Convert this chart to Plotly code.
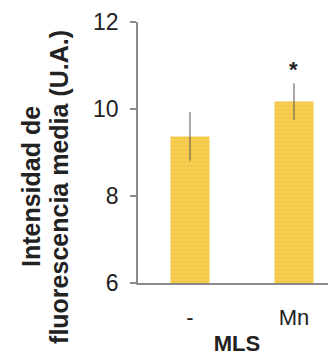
import plotly.graph_objects as go

categories = ["-", "Mn"]
values = [9.37, 10.17]
errors = [0.56, 0.42]
sig_labels = ["", "*"]
y_ticks = [6, 8, 10, 12]

FONT = "Liberation Sans, Arial, sans-serif"
AX = "#8a8a8a"

fig = go.Figure()
fig.add_trace(go.Bar(
    x=[0, 1], y=values, width=0.375,
    marker=dict(color="#F5C843", line=dict(width=0),
                pattern=dict(shape="-", fgcolor="#F9D874", bgcolor="#F5C843",
                             size=4, solidity=0.35)),
    error_y=dict(type="data", array=errors, visible=True, color="#555555",
                 thickness=1, width=0),
))

for i, s in enumerate(sig_labels):
    if s:
        fig.add_annotation(x=i, y=values[i] + errors[i], text="<b>" + s + "</b>", showarrow=False,
                           yshift=14, font=dict(family=FONT, size=22, color="#222"))

fig.add_annotation(xref="paper", yref="paper", x=-0.540, y=0.368, text="<b>Intensidad de</b>",
                   textangle=-90, showarrow=False, xanchor="center", yanchor="middle",
                   font=dict(family=FONT, size=25, color="#222"))
fig.add_annotation(xref="paper", yref="paper", x=-0.399, y=0.368, text="<b>fluorescencia media (U.A.)</b>",
                   textangle=-90, showarrow=False, xanchor="center", yanchor="middle",
                   font=dict(family=FONT, size=25, color="#222"))

fig.update_layout(
    width=336, height=364,
    margin=dict(l=130, r=8, t=14, b=89, autoexpand=False),
    plot_bgcolor="white", paper_bgcolor="white",
    showlegend=False,
    font=dict(family=FONT, color="#222"),
    xaxis=dict(range=[-0.5, 1.404], tickvals=[0, 1], ticktext=categories,
               showline=True, linecolor=AX, linewidth=1.5, ticks="",
               tickfont=dict(size=22), ticklabelstandoff=14, automargin=False,
               title=dict(text="<b>MLS</b>", font=dict(size=22), standoff=6),
               showgrid=False, zeroline=False),
    yaxis=dict(range=[6, 12], tickvals=y_ticks, showline=True, linecolor=AX,
               linewidth=1.5, ticks="outside", ticklen=6, tickcolor=AX, tickwidth=1.5,
               tickfont=dict(size=23), ticklabelstandoff=7, automargin=False,
               showgrid=False, zeroline=False),
)

fig.write_html("out.html")
